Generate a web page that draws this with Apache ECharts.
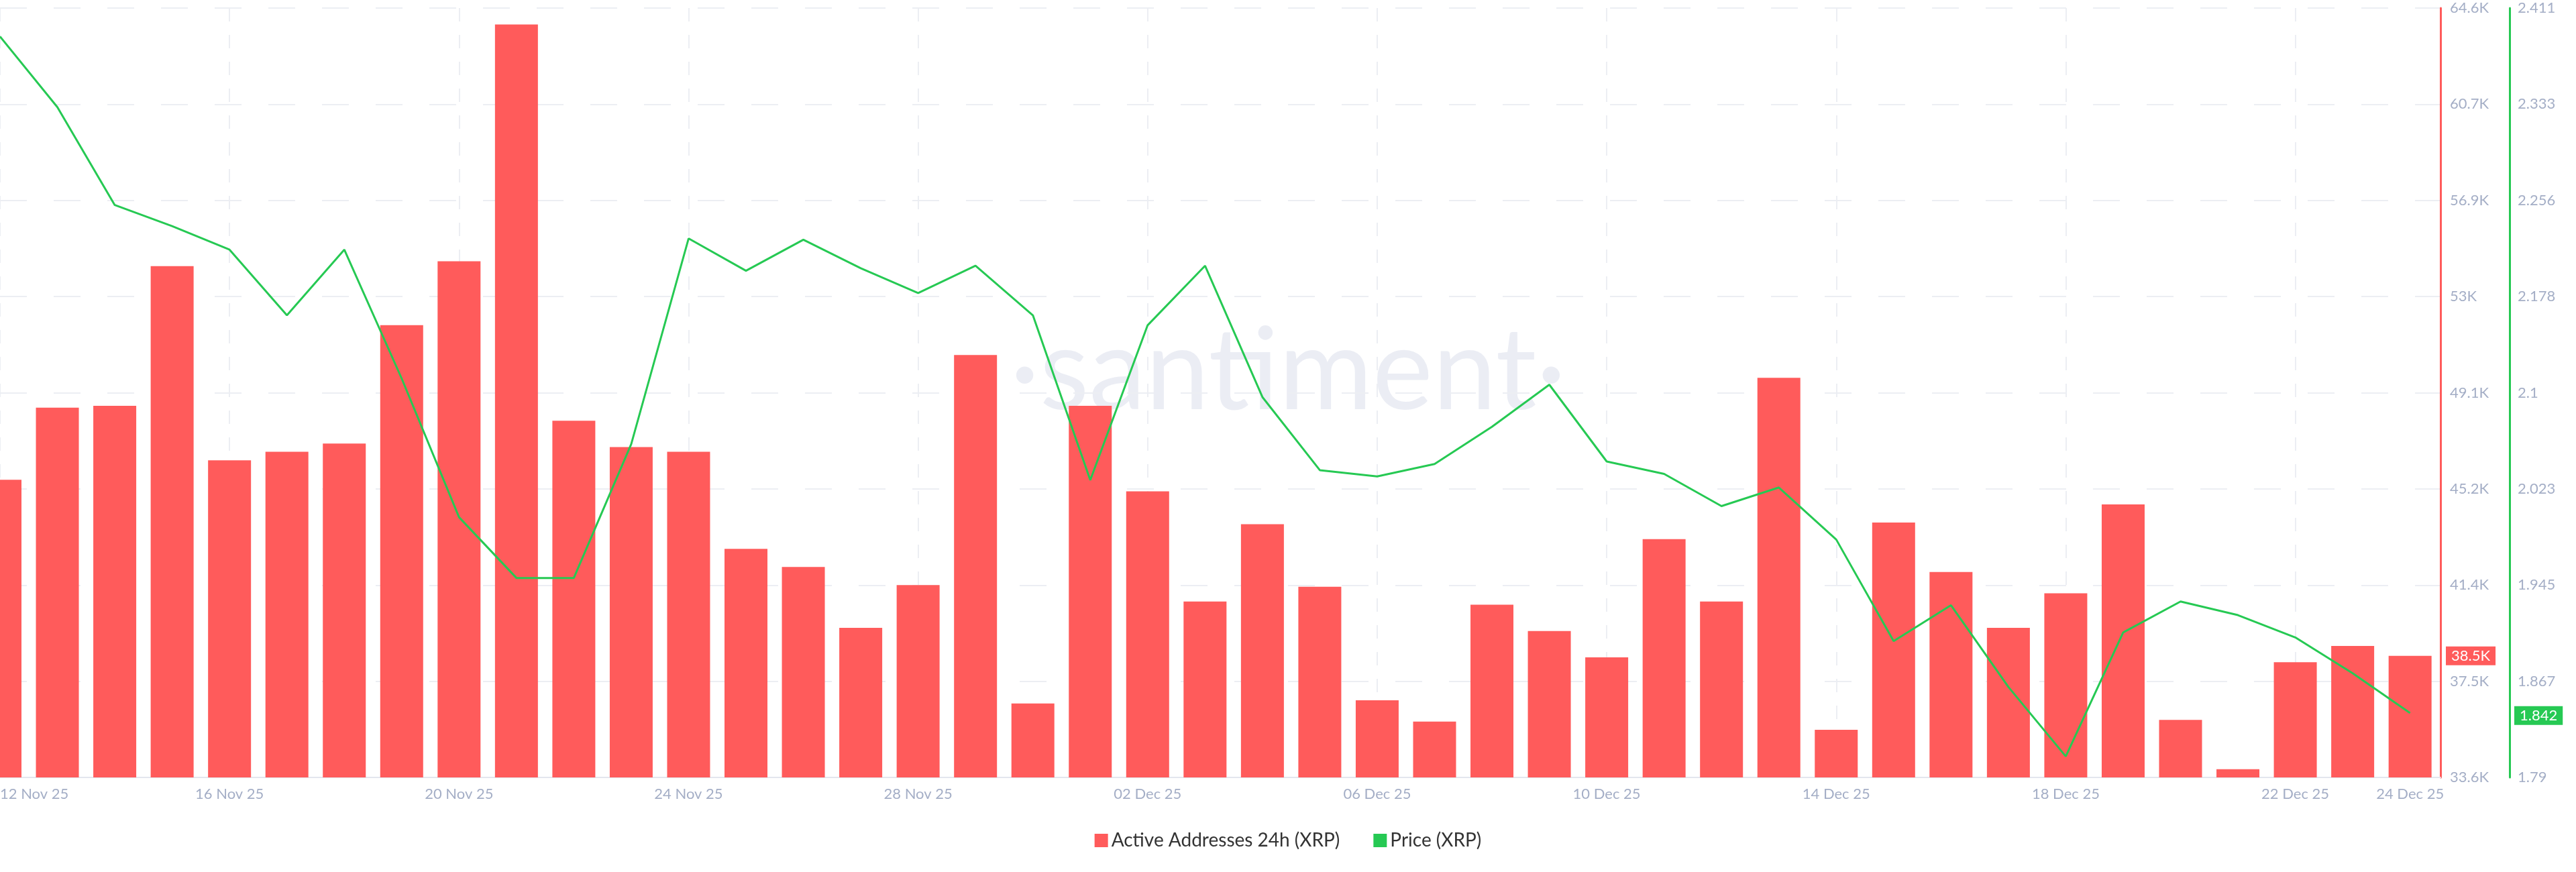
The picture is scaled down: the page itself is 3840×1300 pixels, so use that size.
<!DOCTYPE html>
<html><head><meta charset="utf-8">
<script src="https://cdn.jsdelivr.net/npm/echarts@6/dist/echarts.min.js"></script>
<style>html,body{margin:0;padding:0;background:#fff}#c{width:3840px;height:1300px}</style>
</head><body><div id="c"></div>
<script>
const dates = ['12 Nov 25','13 Nov 25','14 Nov 25','15 Nov 25','16 Nov 25','17 Nov 25','18 Nov 25','19 Nov 25','20 Nov 25','21 Nov 25','22 Nov 25','23 Nov 25','24 Nov 25','25 Nov 25','26 Nov 25','27 Nov 25','28 Nov 25','29 Nov 25','30 Nov 25','02 Dec 25','02 Dec 25','03 Dec 25','04 Dec 25','05 Dec 25','06 Dec 25','07 Dec 25','08 Dec 25','09 Dec 25','10 Dec 25','11 Dec 25','12 Dec 25','13 Dec 25','14 Dec 25','15 Dec 25','16 Dec 25','17 Dec 25','18 Dec 25','19 Dec 25','20 Dec 25','21 Dec 25','22 Dec 25','23 Dec 25','24 Dec 25'];
dates[19]='01 Dec 25';
const activeAddresses = [45590,48500,48570,54200,46380,46720,47050,51820,54400,63940,47970,46910,46720,42810,42080,39630,41350,50620,36580,48570,45130,40690,43800,41280,36710,35850,40560,39500,38440,43200,40690,49700,35520,43870,41880,39630,41020,44600,35920,33930,38240,38900,38500];
const price = [2.388,2.331,2.252,2.235,2.216,2.163,2.216,2.112,2.000,1.951,1.951,2.059,2.225,2.199,2.224,2.201,2.181,2.203,2.163,2.030,2.155,2.203,2.097,2.038,2.033,2.043,2.073,2.107,2.045,2.035,2.009,2.024,1.982,1.900,1.929,1.863,1.807,1.907,1.932,1.921,1.903,1.874,1.842];
const addrTicks = ['33.6K','37.5K','41.4K','45.2K','49.1K','53K','56.9K','60.7K','64.6K'];
const priceTicks = ['1.79','1.867','1.945','2.023','2.1','2.178','2.256','2.333','2.411'];
const labelDays = [0,4,8,12,16,20,24,28,32,36,40,42];
const RED='#ff5b5b', GREEN='#26c953', LBL='#a4aec6';
const chart = echarts.init(document.getElementById('c'));
const idx = (v,min,step)=>Math.round((v-min)/step);
chart.setOption({
  animation:false,
  grid:{left:0,right:202,top:12,bottom:141,containLabel:false,outerBoundsMode:'none'},
  graphic:[{type:'text',left:'center',top:470,style:{text:'·santiment·',fontSize:170,fill:'rgba(190,196,220,0.3)',fontFamily:'Lato'}}],
  legend:{bottom:28,left:'center',itemWidth:20,itemHeight:20,itemGap:50,icon:'rect',textStyle:{fontSize:28,color:'#333',fontFamily:'Lato'},
    data:['Active Addresses 24h (XRP)','Price (XRP)']},
  xAxis:{type:'value',min:0,max:42.53,interval:4,
    axisLine:{lineStyle:{color:'#e3e6ee',width:2}},axisTick:{show:false},
    splitLine:{show:true,lineStyle:{type:[20,20],color:'#eceef3',width:2}},
    axisLabel:{color:LBL,fontSize:22,fontFamily:'Lato',margin:14,customValues:labelDays,alignMinLabel:'left',
      formatter:v=>dates[Math.round(v)]||''}},
  yAxis:[
    {type:'value',position:'right',min:33600,max:64600,interval:3875,
      axisLine:{show:true,onZero:false,lineStyle:{color:RED,width:3}},axisTick:{show:false},
      splitLine:{lineStyle:{type:[40,40],color:'#eceef3',width:2}},
      axisLabel:{color:LBL,fontSize:22,fontFamily:'Lato',margin:14,formatter:v=>addrTicks[idx(v,33600,3875)]}},
    {type:'value',position:'right',offset:103,min:1.79,max:2.411,interval:0.077625,
      axisLine:{show:true,onZero:false,lineStyle:{color:GREEN,width:3}},axisTick:{show:false},splitLine:{show:false},
      axisLabel:{color:LBL,fontSize:22,fontFamily:'Lato',margin:12,formatter:v=>priceTicks[idx(v,1.79,0.077625)]}}
  ],
  series:[
    {name:'Active Addresses 24h (XRP)',type:'bar',yAxisIndex:0,barWidth:64,clip:true,itemStyle:{color:RED},
      data:activeAddresses.map((v,i)=>[i,v]),
      markLine:{symbol:'none',silent:true,lineStyle:{color:'transparent'},
        data:[{yAxis:activeAddresses[activeAddresses.length-1]}],
        label:{show:true,position:'end',distance:8,formatter:'38.5K',color:'#fff',backgroundColor:RED,fontSize:22,padding:[3,8],fontFamily:'Lato'}}},
    {name:'Price (XRP)',type:'line',yAxisIndex:1,symbol:'none',lineStyle:{color:GREEN,width:3},itemStyle:{color:GREEN},
      data:price.map((v,i)=>[i,v]),
      markLine:{symbol:'none',silent:true,lineStyle:{color:'transparent'},
        data:[{yAxis:price[price.length-1]}],
        label:{show:true,position:'end',distance:110,formatter:'1.842',color:'#fff',backgroundColor:GREEN,fontSize:22,padding:[3,8],fontFamily:'Lato'}}}
  ]
});
</script></body></html>
